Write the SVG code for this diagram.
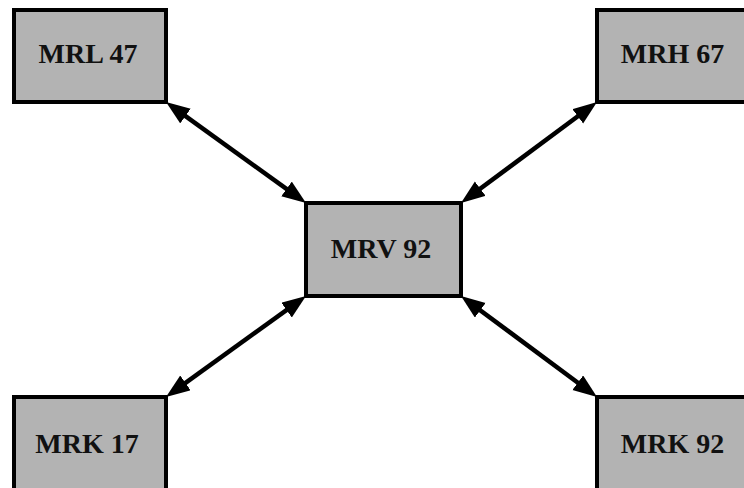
<svg xmlns="http://www.w3.org/2000/svg" width="744" height="488" viewBox="0 0 744 488">
  <style>
    .box { fill: #b3b3b3; stroke: #000; stroke-width: 4; }
    .lbl { font-family: "Liberation Serif", "Times New Roman", serif; font-weight: bold; font-size: 28px; fill: #111; text-anchor: middle; }
    .link { stroke: #000; stroke-width: 4.5; fill: none; marker-start: url(#head); marker-end: url(#head); }
  </style>
  <defs>
    <!-- filled arrowhead, tip sits 10px beyond the path end -->
    <marker id="head" markerUnits="userSpaceOnUse" markerWidth="26" markerHeight="20" refX="14" refY="9" orient="auto-start-reverse" viewBox="0 0 26 20">
      <path d="M0,0 L24,9 L0,18 z" fill="#000"/>
    </marker>
  </defs>
  <rect width="744" height="488" fill="#fff"/>

  <g id="connectors">
    <path class="link" d="M174.1,107.9 L297.9,197.1"/>
    <path class="link" d="M589,108 L469,197"/>
    <path class="link" d="M174.1,391.1 L297.9,301.9"/>
    <path class="link" d="M589,391 L469,302"/>
  </g>

  <g id="mrl47">
    <rect class="box" x="14" y="10" width="152" height="92"/>
    <text class="lbl" x="88" y="63">MRL 47</text>
  </g>
  <g id="mrh67">
    <rect class="box" x="597" y="10" width="152" height="92"/>
    <text class="lbl" x="672.5" y="63">MRH 67</text>
  </g>
  <g id="mrv92">
    <rect class="box" x="306" y="203" width="155" height="93"/>
    <text class="lbl" x="381" y="258">MRV 92</text>
  </g>
  <g id="mrk17">
    <rect class="box" x="14" y="397" width="152" height="95"/>
    <text class="lbl" x="87" y="453">MRK 17</text>
  </g>
  <g id="mrk92">
    <rect class="box" x="597" y="397" width="152" height="95"/>
    <text class="lbl" x="672.5" y="453">MRK 92</text>
  </g>
</svg>
